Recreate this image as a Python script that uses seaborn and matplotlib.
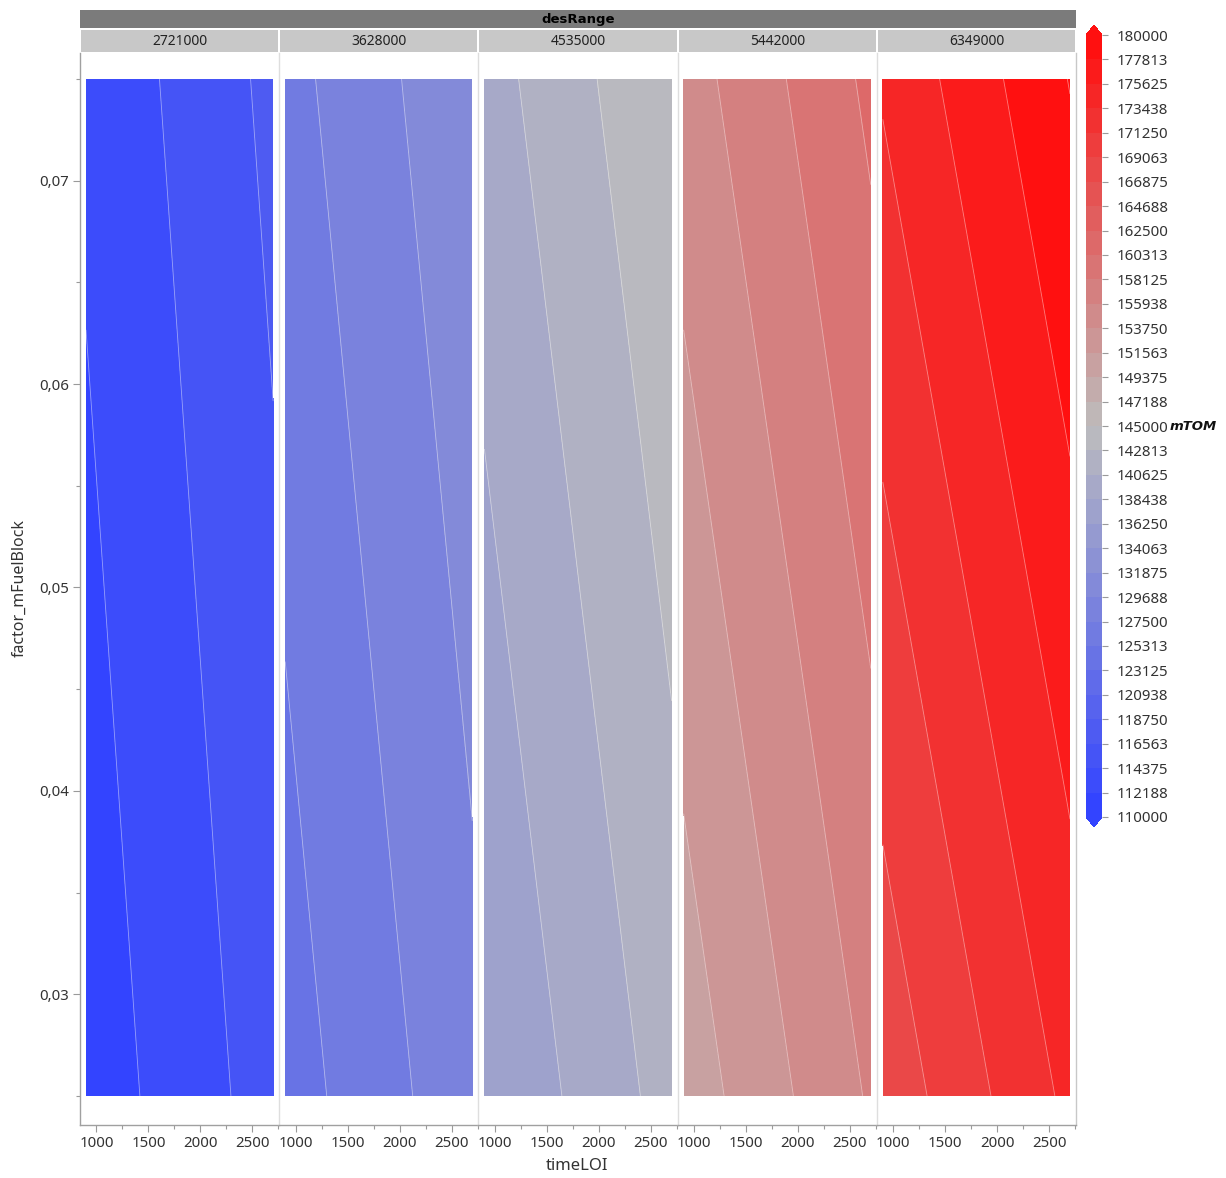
import math
import numpy as np
import pandas as pd
import matplotlib
matplotlib.use("Agg")
import matplotlib.pyplot as plt
import seaborn as sns
from matplotlib.colors import LinearSegmentedColormap, BoundaryNorm
from matplotlib.patches import Rectangle
from matplotlib.ticker import FixedLocator, FuncFormatter

# ---------------- data ----------------
des_range = [2721000, 3628000, 4535000, 5442000, 6349000]
time_loi = [900, 2700]
factor_fuel = [0.025, 0.075]
# mTOM at the grid corners: rows = factor_fuel, cols = time_loi
mtom_2721000 = [[110894, 115390],
                [112611, 117106]]
mtom_3628000 = [[124257, 129019],
                [126728, 131490]]
mtom_4535000 = [[136279, 141494],
                [139672, 144887]]
mtom_5442000 = [[150286, 156193],
                [154884, 160791]]
mtom_6349000 = [[167547, 173955],
                [173680, 180090]]
mtom_tables = [mtom_2721000, mtom_3628000, mtom_4535000, mtom_5442000, mtom_6349000]

level_min, level_max, n_bands = 110000, 180000, 32
cmap_anchor = ["#3344ff", "#bdbdbd", "#ff1010"]

rows = []
for d, tab in zip(des_range, mtom_tables):
    for i, f in enumerate(factor_fuel):
        for j, t in enumerate(time_loi):
            rows.append({"desRange": d, "timeLOI": t, "factor_mFuelBlock": f, "mTOM": tab[i][j]})
df = pd.DataFrame(rows)

# ---------------- style ----------------
sns.set_theme(style="white")
plt.rcParams["font.family"] = ["Noto Sans", "DejaVu Sans"]

levels = np.linspace(level_min, level_max, n_bands + 1)
cmap = LinearSegmentedColormap.from_list("bgr", cmap_anchor, N=n_bands)
cmap.set_under(cmap_anchor[0])
cmap.set_over(cmap_anchor[-1])
norm = BoundaryNorm(levels, ncolors=cmap.N)

W, H = 1226, 1178


def draw_contour(data, **kws):
    ax = plt.gca()
    piv = data.pivot(index="factor_mFuelBlock", columns="timeLOI", values="mTOM")
    X, Y = np.meshgrid(piv.columns.values, piv.index.values)
    Z = piv.values
    ax.contourf(X, Y, Z, levels=levels, cmap=cmap, norm=norm, extend="both")
    ax.contour(X, Y, Z, levels=levels, colors="white", linewidths=0.6, alpha=0.45)


g = sns.FacetGrid(df, col="desRange", col_order=des_range, sharex=True, sharey=True,
                  height=4, aspect=0.5, despine=False)
g.map_dataframe(draw_contour)
fig = g.figure
fig.set_size_inches(W / 100, H / 100)
fig.set_dpi(100)

ax_left, ax_right, ax_top, ax_bot = 80, 1076, 53, 1125
fig.subplots_adjust(left=ax_left / W, right=ax_right / W, bottom=1 - ax_bot / H,
                    top=1 - ax_top / H, wspace=0)

g.set_titles("")
tick_col = "#333333"
lab_size = 10.8
for k, ax in enumerate(g.axes.flat):
    ax.set_xlim(842, 2758)
    ax.set_ylim(0.02357, 0.07628)
    ax.set_xlabel("")
    ax.set_ylabel("")
    ax.xaxis.set_major_locator(FixedLocator([1000, 1500, 2000, 2500]))
    ax.xaxis.set_minor_locator(FixedLocator([1250, 1750, 2250, 2750]))
    ax.yaxis.set_major_locator(FixedLocator([0.03, 0.04, 0.05, 0.06, 0.07]))
    ax.yaxis.set_minor_locator(FixedLocator([0.025, 0.035, 0.045, 0.055, 0.065, 0.075]))
    ax.tick_params(axis="both", which="major", length=5, width=0.8, color="#9a9a9a",
                   labelsize=lab_size, labelcolor=tick_col, direction="out", pad=3)
    ax.tick_params(axis="both", which="minor", length=3, width=0.8, color="#9a9a9a",
                   direction="out")
    ax.tick_params(axis="x", which="both", bottom=True)
    ax.tick_params(axis="y", which="both", left=(k == 0), labelleft=(k == 0))
    ax.yaxis.set_major_formatter(FuncFormatter(lambda v, p: f"{v:.2f}".replace(".", ",")))
    ax.spines["top"].set_visible(False)
    ax.spines["right"].set_visible(k == len(des_range) - 1)
    ax.spines["right"].set_color("#c8c8c8")
    ax.spines["left"].set_color("#a0a0a0" if k == 0 else "#dedede")
    ax.spines["bottom"].set_color("#a0a0a0")
    for s in ax.spines.values():
        s.set_linewidth(1.0)
    ax.set_facecolor("white")


def fx(px):
    return px / W


def fy(py):
    return 1 - py / H


# dark strip with variable name
fig.add_artist(Rectangle((fx(80), fy(28)), fx(1076) - fx(80), fy(10) - fy(28),
                         transform=fig.transFigure, facecolor="#7b7b7b", edgecolor="none"))
fig.text(fx(578), fy(19), "desRange", ha="center", va="center", fontsize=9.5,
         fontweight="bold", color="black", family="DejaVu Sans")
# light strips with values
for k, ax in enumerate(g.axes.flat):
    pos = ax.get_position()
    fig.add_artist(Rectangle((pos.x0 + 1 / W, fy(52)), pos.width - 2 / W, fy(30) - fy(52),
                             transform=fig.transFigure, facecolor="#c8c8c8", edgecolor="none"))
    fig.text((pos.x0 + pos.x1) / 2, fy(41.5), str(des_range[k]), ha="center", va="center",
             fontsize=10, color="#222222")

fig.text(fx(577), fy(1166), "timeLOI", ha="center", va="center", fontsize=12, color="#333333")
fig.text(fx(20), fy(588), "factor_mFuelBlock", ha="center", va="center", rotation=90,
         fontsize=11.5, color="#333333")

# colorbar (extensions inside the axes box)
cb_top, cb_bot = 35, 817
ext_px = 10
cax = fig.add_axes([fx(1086), fy(cb_bot + ext_px), fx(1102) - fx(1086),
                    fy(cb_top - ext_px) - fy(cb_bot + ext_px)])
sm = matplotlib.cm.ScalarMappable(norm=norm, cmap=cmap)
cb = fig.colorbar(sm, cax=cax, extend="both", extendfrac=ext_px / (cb_bot - cb_top),
                  spacing="uniform", ticks=levels)
cb.outline.set_visible(False)
cb.ax.set_yticklabels([str(int(math.floor(v + 0.5))) for v in levels])
cb.ax.tick_params(length=4, width=0.8, color="#9a9a9a", labelsize=lab_size,
                  labelcolor=tick_col, pad=6.5)
fig.text(fx(1170), fy(426), "mTOM", ha="left", va="center", fontsize=9.5,
         fontweight="bold", fontstyle="italic", color="#111111", family="DejaVu Sans")

fig.savefig("out.png", dpi=100)
